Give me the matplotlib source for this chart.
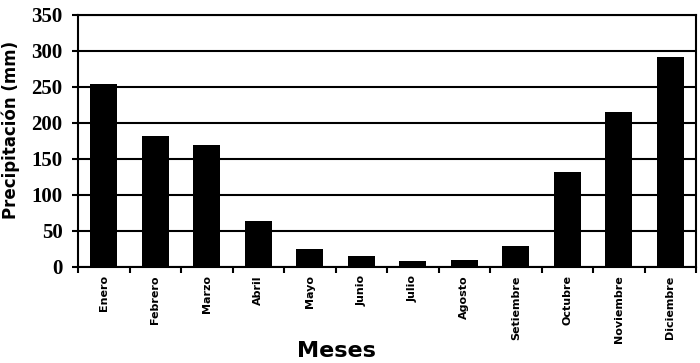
import matplotlib
matplotlib.use("Agg")
import matplotlib.pyplot as plt
import numpy as np

meses = ["Enero", "Febrero", "Marzo", "Abril", "Mayo", "Junio", "Julio",
         "Agosto", "Setiembre", "Octubre", "Noviembre", "Diciembre"]
precipitacion = [254, 182, 169, 64, 25, 15, 8, 10, 29, 132, 215, 292]
yticks = [0, 50, 100, 150, 200, 250, 300, 350]

fig = plt.figure(figsize=(7, 3.63), dpi=100)
ax = fig.add_axes([78/700, 1-267/363, (696-78)/700, (267-15)/363])

x = np.arange(len(meses))
ax.bar(x, precipitacion, width=0.53, color="black", zorder=3)
ax.set_xlim(-0.5, len(meses)-0.5)
ax.set_ylim(0, 350)

ax.set_yticks(yticks)
ax.set_yticklabels([str(v) for v in yticks], fontfamily="Liberation Serif",
                   fontweight="bold", fontsize=15)
ax.yaxis.grid(True, color="black", linewidth=1.5, zorder=1)

ax.set_xticks(x)
ax.set_xticklabels(meses, rotation=90, fontsize=8, fontweight="bold",
                   fontfamily="DejaVu Sans")
ax.tick_params(axis="x", length=0, pad=6)
ax.set_xticks(np.arange(len(meses)+1)-0.5, minor=True)
ax.tick_params(axis="x", which="minor", length=4, width=1.5, direction="out")
ax.tick_params(axis="y", length=4, width=1.5, direction="out", pad=7)

for s in ax.spines.values():
    s.set_linewidth(1.5)
    s.set_color("black")

fig.text(11/700, 1-130/363, "Precipitación (mm)", rotation=90, fontsize=12,
         fontweight="bold", ha="center", va="center")
fig.text(336/700, 1-351/363, "Meses", fontsize=16, fontweight="bold",
         ha="center", va="center")

fig.savefig("out.png", dpi=100)
